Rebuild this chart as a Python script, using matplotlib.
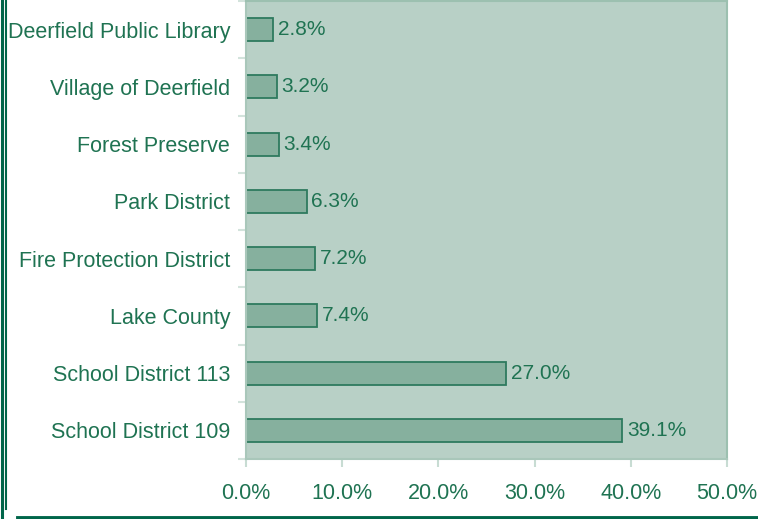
import matplotlib.pyplot as plt
from matplotlib.lines import Line2D

categories = ["Deerfield Public Library", "Village of Deerfield", "Forest Preserve",
              "Park District", "Fire Protection District", "Lake County",
              "School District 113", "School District 109"]
shares = [2.8, 3.2, 3.4, 6.3, 7.2, 7.4, 27.0, 39.1]
x_ticks = [0, 10, 20, 30, 40, 50]

text_color = "#1f7352"
plt.rcParams['font.family'] = ['Liberation Sans', 'DejaVu Sans']

fig = plt.figure(figsize=(7.58, 5.19), dpi=100)
ax = fig.add_axes([246/758, 1 - 459/519, 481/758, 459/519 - 0.002])
ax.set_facecolor("#b8d0c6")

y = list(range(len(categories)))
ax.barh(y, shares, height=0.4, color="#86b09e", edgecolor="#2e7a5e", linewidth=1.3)
for yi, v in zip(y, shares):
    ax.text(v + 0.5, yi, f"{v:.1f}%", va="center", ha="left", fontsize=15, color=text_color)

ax.set_ylim(len(categories) - 0.5, -0.5)
ax.set_xlim(0, 50)
ax.set_yticks(y)
ax.set_yticklabels(categories)
ax.set_yticks([i - 0.5 for i in range(len(categories) + 1)], minor=True)
ax.tick_params(axis="y", which="major", length=0, pad=11.5, labelsize=15.5, labelcolor=text_color)
ax.tick_params(axis="y", which="minor", length=6, color="#d3e3dc", width=1.5)
ax.set_xticks(x_ticks)
ax.set_xticklabels([f"{t:.1f}%" for t in x_ticks])
ax.tick_params(axis="x", length=6, color="#c8dcd3", width=1.5, pad=11, labelsize=15.5, labelcolor=text_color)

for side in ["left", "bottom"]:
    ax.spines[side].set_color("#a9c7ba")
    ax.spines[side].set_linewidth(1.5)
for side in ["top", "right"]:
    ax.spines[side].set_color("#9cc0b0")
    ax.spines[side].set_linewidth(1.5)

# frame lines around the picture
dark = "#00664a"
fig.add_artist(Line2D([1.5/758, 1.5/758], [0, 1], color=dark, lw=2.2, transform=fig.transFigure))
fig.add_artist(Line2D([6/758, 6/758], [10/519, 1], color=dark, lw=1.5, transform=fig.transFigure))
fig.add_artist(Line2D([18/758, 1], [1.5/519, 1.5/519], color=dark, lw=3.5, transform=fig.transFigure))

fig.savefig("out.png", dpi=100)
